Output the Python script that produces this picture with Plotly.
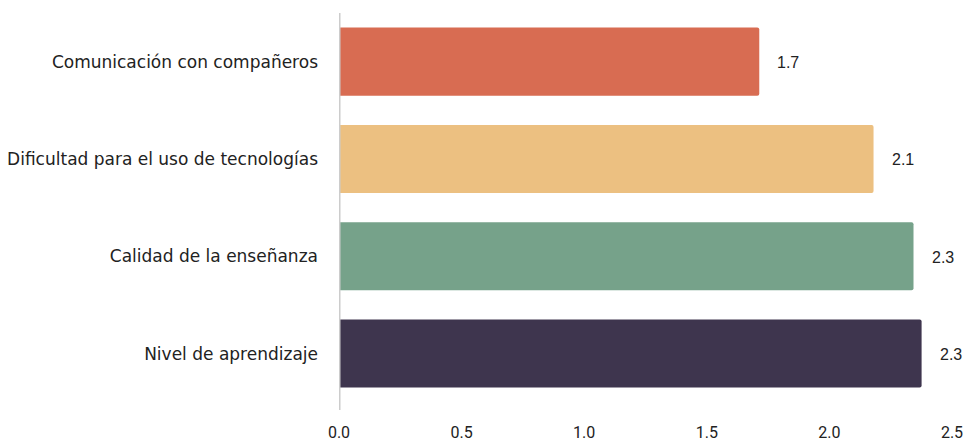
import math
import plotly.graph_objects as go

# Average scores per aspect (bottom to top)
categories = [
    "Nivel de aprendizaje",
    "Calidad de la enseñanza",
    "Dificultad para el uso de tecnologías",
    "Comunicación con compañeros",
]
scores = [2.376, 2.343, 2.18, 1.714]
colors = ["#3E354E", "#76A28A", "#ECC081", "#D86C52"]
x_ticks = [0.0, 0.5, 1.0, 1.5, 2.0, 2.5]

# labels show the score truncated to one decimal
labels = [f"{math.floor(v * 10) / 10:.1f}" for v in scores]

fig = go.Figure(
    go.Bar(
        x=scores,
        y=categories,
        orientation="h",
        width=0.7,
        marker=dict(color=colors, cornerradius=2, line=dict(width=0)),
        hoverinfo="skip",
    )
)

for cat, val, lab in zip(categories, scores, labels):
    fig.add_annotation(
        x=val, y=cat, text=lab, showarrow=False,
        xanchor="left", yanchor="middle", xshift=16, yshift=-1,
        font=dict(family="Liberation Sans, Arial, sans-serif", size=16, color="#222"),
    )

# vertical baseline at zero
fig.add_shape(
    type="line", xref="x", yref="paper", x0=0, x1=0, y0=0, y1=1,
    line=dict(color="#CCCCCC", width=3), layer="above",
)

fig.update_layout(
    width=966, height=445,
    margin=dict(l=339, r=14, t=13, b=35),
    paper_bgcolor="white", plot_bgcolor="white",
    showlegend=False,
    bargap=0.3,
    xaxis=dict(
        range=[0, 2.5], tickvals=x_ticks, ticktext=[f"{t:.1f}" for t in x_ticks],
        showgrid=False, zeroline=False, showline=False, ticks="",
        automargin=False,
        ticklabelstandoff=11,
        tickfont=dict(family="Roboto, sans-serif", size=16, color="#222"),
    ),
    yaxis=dict(
        categoryorder="array", categoryarray=categories,
        range=[-0.58, 3.5],
        showgrid=False, zeroline=False, showline=False, ticks="",
        automargin=False,
        ticklabelstandoff=20,
        tickfont=dict(family="DejaVu Sans, sans-serif", size=17, color="#222"),
    ),
)

fig.write_html("out.html")
